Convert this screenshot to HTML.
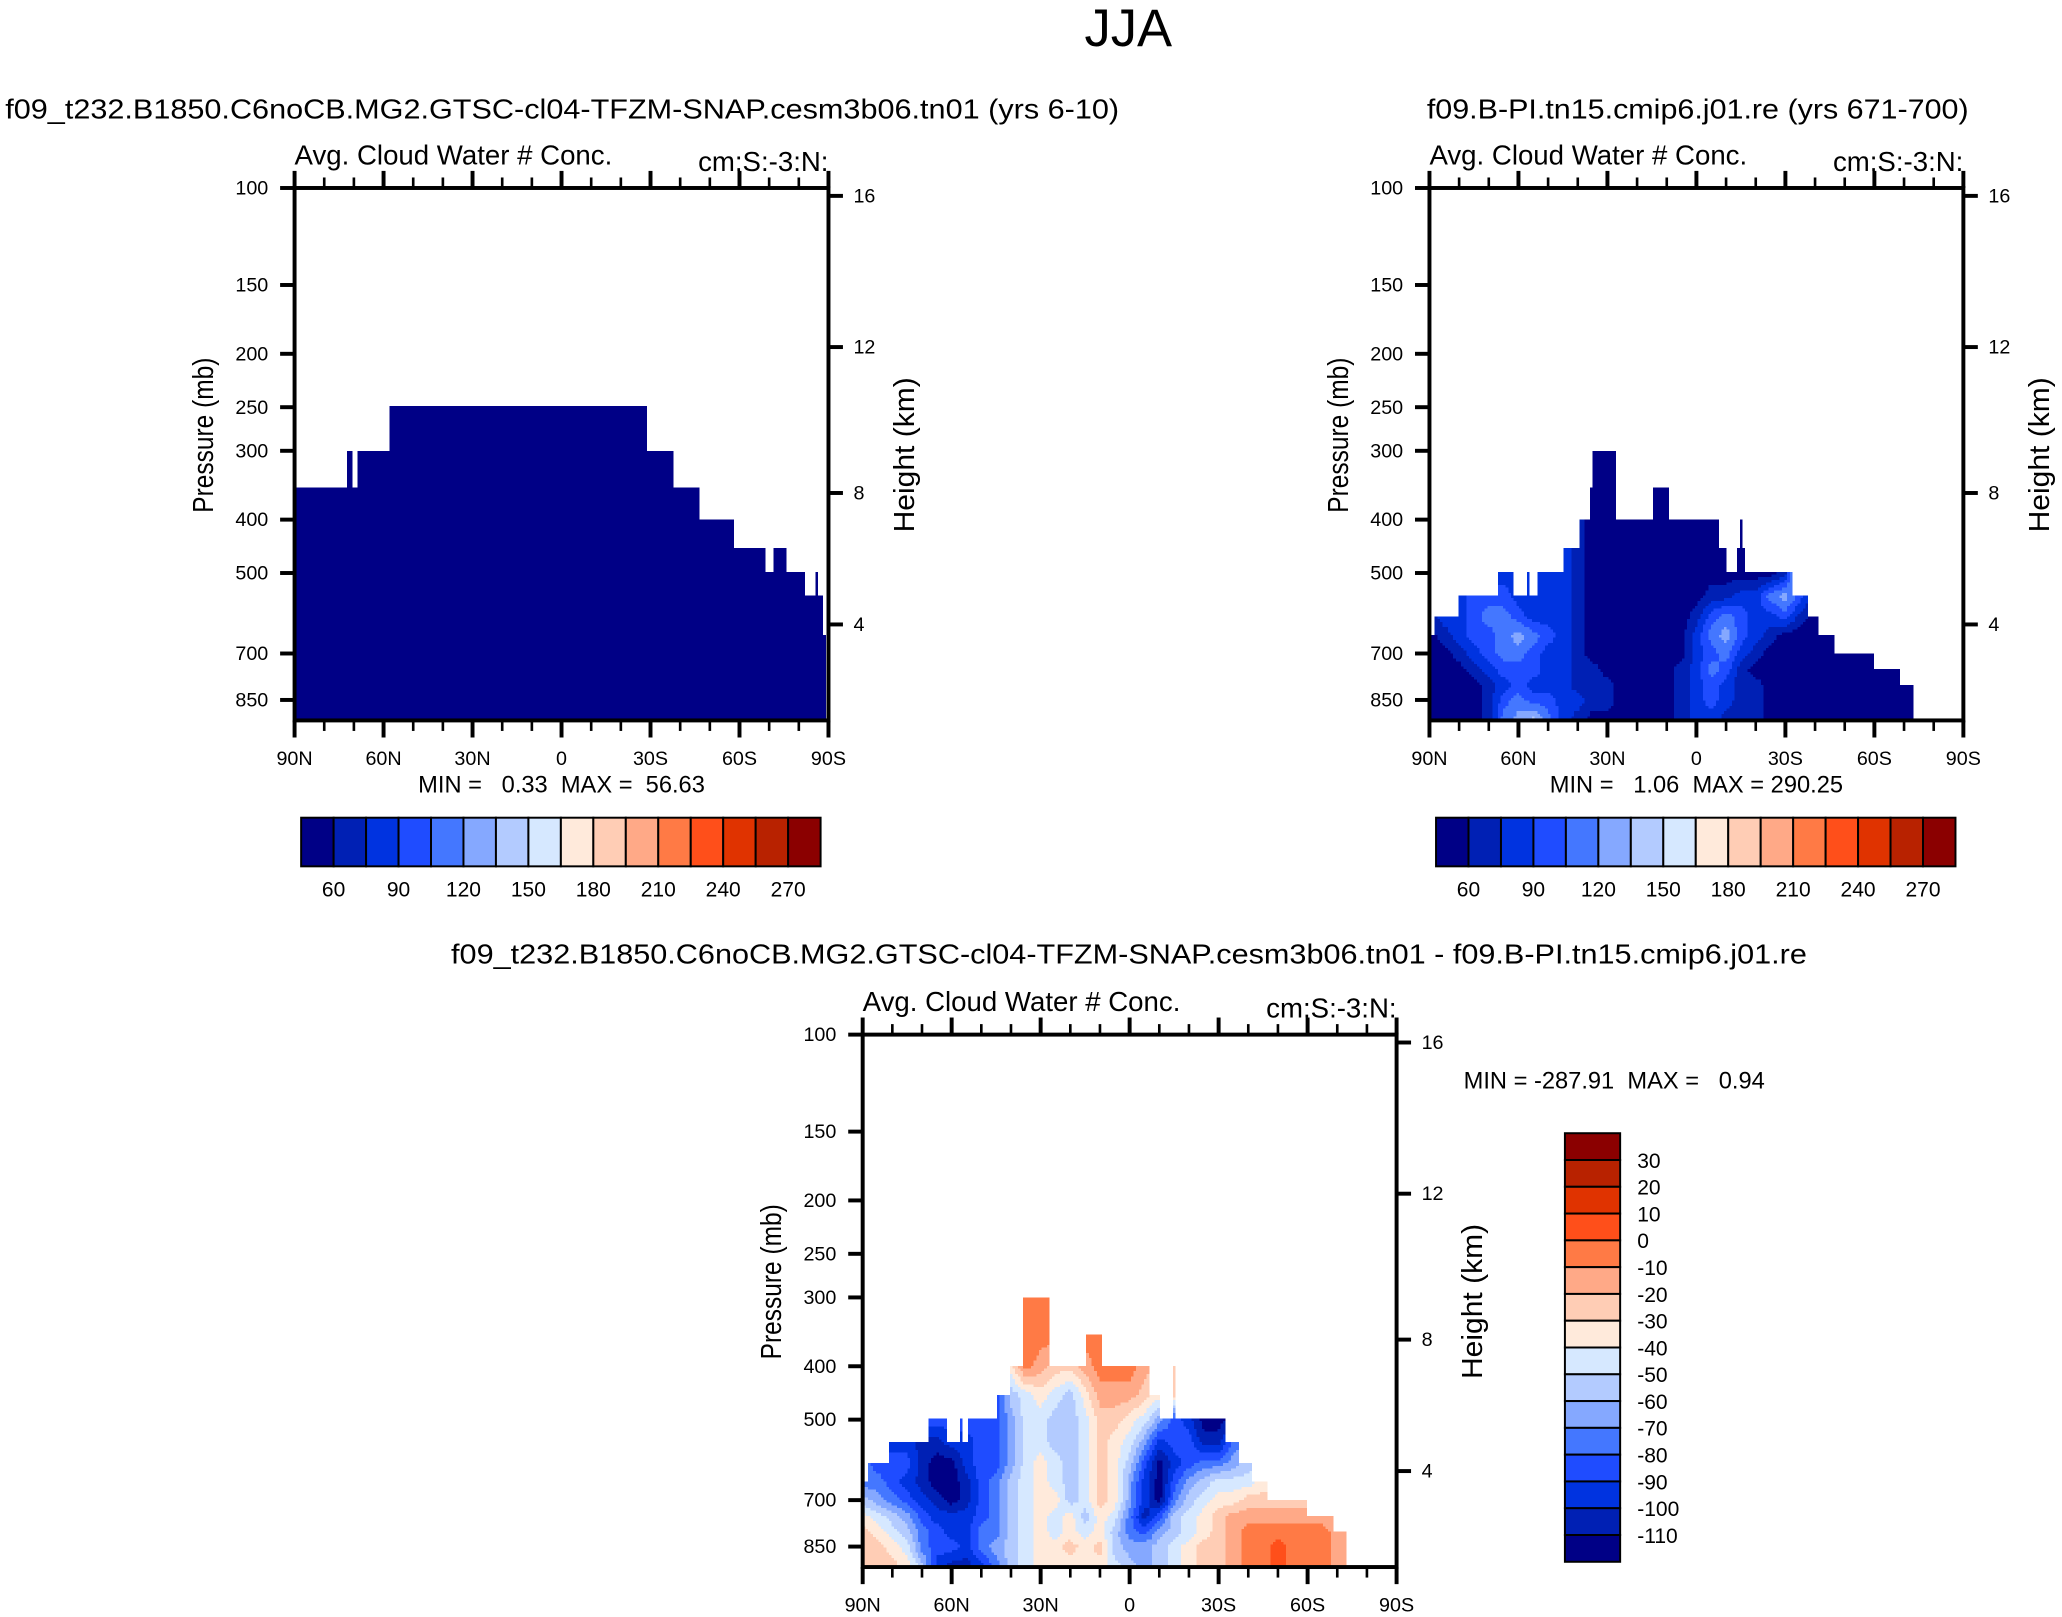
<!DOCTYPE html>
<html><head><meta charset="utf-8"><style>
html,body{margin:0;padding:0;background:#fff}
svg{display:block}
text{font-family:"Liberation Sans",Arial,sans-serif;fill:#000}
.pre{white-space:pre}
</style></head><body>
<svg id="fig" xmlns="http://www.w3.org/2000/svg" width="2062" height="1617" viewBox="0 0 1568 1230" preserveAspectRatio="none">
<rect x="0" y="0" width="1568" height="1230" fill="#fff"/>
<text x="858" y="35" font-size="40" text-anchor="middle">JJA</text>
<text x="4" y="90" font-size="21" textLength="847" lengthAdjust="spacingAndGlyphs">f09_t232.B1850.C6noCB.MG2.GTSC-cl04-TFZM-SNAP.cesm3b06.tn01 (yrs 6-10)</text>
<text x="1085" y="90" font-size="21" textLength="412" lengthAdjust="spacingAndGlyphs">f09.B-PI.tn15.cmip6.j01.re (yrs 671-700)</text>
<text x="343" y="733" font-size="21" textLength="1031" lengthAdjust="spacingAndGlyphs">f09_t232.B1850.C6noCB.MG2.GTSC-cl04-TFZM-SNAP.cesm3b06.tn01 - f09.B-PI.tn15.cmip6.j01.re</text>
<g id="layer"></g>
</svg>
<script>
// ---- data ----
const levelColors = ['#000086','#0020b4','#0033e0','#1f4cff','#4477ff','#85a8ff','#b3cbff','#d6e8ff','#ffeadb','#ffcdb5','#ffa987','#ff7a45','#ff4f1a','#e03300','#b82200','#8b0000'];
const absLabels = ['60','90','120','150','180','210','240','270'];
const diffLabels = ['30','20','10','0','-10','-20','-30','-40','-50','-60','-70','-80','-90','-100','-110'];
const pressTicks = [100,150,200,250,300,400,500,700,850];
const heightTicks = ['16','12','8','4'];
const latLabels = ['90N','60N','30N','0','30S','60S','90S'];
const pressNodes = [300,350,400,450,500,550,600,650,700,750,800,850,926];

const env1Start = [0,17.8,19.6,21.6,32,118.9,127.3,136.9,148.2,158.7,161.6,166.2,171.8,175.6,176.4,178.2,179.1];
const env1Top   = [350,300,350,300,250,300,350,400,450,500,450,500,550,500,550,650,null];
const p1Rows = ['0'];

const env2Start = [0,1.8,9.5,22.8,28.4,32.8,33.9,36.1,45.4,50.1,53.9,55,63.2,75.1,80.9,97.1,100,103.7,104.4,105.3,106.4,122.1,127.5,130.8,136.6,149.9,158.5,163.2];
const env2Top   = [650,600,550,500,550,500,550,500,450,400,350,300,400,350,400,450,500,450,400,450,500,550,600,650,700,750,800,null];
const p2Rows = [
 '0000000000000000000000000000000000000',
 '0000000000000000000000000000000000000',
 '0000000002100000000000000000000000000',
 '2222222222100000000000000000000000000',
 '1122222222100000000000001a63000000000',
 '1123332222100000000112245310000000000',
 '1223443222100000001343223100000000000',
 '0123345432100000002453210000000000000',
 '0012344322100000002342100000000000000',
 '0001233322110000012431000000000000000',
 '0000123222111000012321100000000000000',
 '0000134332211000012321100000000000000',
 '0000145642100000012211100000000000000'
];

const env3Start = [0,1.6,9.2,22.3,28.4,32.7,33.6,35.4,45,49.9,53.7,54.4,62.9,75.5,81,96.9,100,104.6,105.6,122.5,127.1,131,136.5,149.8,158.5,163.1];
const env3Top   = [650,600,550,500,550,500,550,500,450,400,350,300,400,350,400,450,500,400,500,550,600,650,700,750,800,null];
const p3Rows = [
 'bbbbbbbbbbbbbbbbbbbbbbbbbbbbbbbbbbbbb',
 '88888888889bbbabbba999999999999999999',
 '33333333368ba99abbba99999999999999999',
 '3333333333678768aaa989333333333333333',
 '3333333333577667998753200111111111111',
 '2222112233577667987523311444444444444',
 '4333100233578767986302344566666666666',
 '4432100134678767985203567778888888888',
 '6543210134678867985204678899999999999',
 '8765322234678786874136789aaaaaaaaaaaa',
 '9876432244678787864356789abbbbbbaaaaa',
 '9987433245678898965567899abbcbbbaaaaa',
 '9998621124678888876567899abbcbbbaaaaa'
];

// ---- drawing ----
const NS='http://www.w3.org/2000/svg';
const layer=document.getElementById('layer');
function mk(tag,attrs,parent){const e=document.createElementNS(NS,tag);for(const k in attrs)e.setAttribute(k,attrs[k]);(parent||layer).appendChild(e);return e;}
const BW=406,BH=405,K=419;
function yOfP(p,y0){return y0+K*(Math.log10(p)-2);}
function pOfY(y,y0){return Math.pow(10,2+(y-y0)/K);}
function envTop(starts,tops,deg){let t=null;for(let i=0;i<starts.length;i++){if(starts[i]<=deg)t=tops[i];}return t;}
function hv(ch){return parseInt(ch,16);}
function valAt(rows,deg,p){
  const nr=rows.length;
  let r0=0,fr=0;
  if(nr>1){
    if(p<=pressNodes[0]){r0=0;fr=0;}
    else if(p>=pressNodes[nr-1]){r0=nr-2;fr=1;}
    else{for(let i=0;i<nr-1;i++){if(p>=pressNodes[i]&&p<=pressNodes[i+1]){r0=i;fr=(p-pressNodes[i])/(pressNodes[i+1]-pressNodes[i]);break;}}}
  }
  const r1=Math.min(r0+1,nr-1);
  function rowVal(s){const ncol=s.length;if(ncol===1)return hv(s[0]);let c=deg/5;if(c<0)c=0;if(c>ncol-1)c=ncol-1;const c0=Math.floor(c),c1=Math.min(c0+1,ncol-1),f=c-c0;return hv(s[c0])*(1-f)+hv(s[c1])*f;}
  return rowVal(rows[r0])*(1-fr)+rowVal(rows[r1])*fr;
}
function drawField(g,x0,y0,rows,starts,tops){
  const st=2;
  for(let y=y0;y<y0+BH;y+=st){
    const p=pOfY(y+st/2,y0);
    let runStart=null,runLvl=-1;
    for(let x=x0;x<=x0+BW;x+=st){
      let lvl=-1;
      if(x<x0+BW){
        const deg=(x+st/2-x0)/BW*180;
        const top=envTop(starts,tops,deg);
        if(top!==null&&p>=top){lvl=Math.max(0,Math.min(15,Math.round(valAt(rows,deg,p))));}
      }
      if(lvl!==runLvl){
        if(runLvl>=0){
          const r=mk('rect',{x:runStart,y:y,width:Math.min(x,x0+BW)-runStart,height:Math.min(st+0.6,y0+BH-y),fill:levelColors[runLvl]},g);
          
          
        }
        runStart=x;runLvl=lvl;
      }
    }
  }
}
function drawPanel(id,x0,y0,rows,starts,tops,hTickYs){
  const g=mk('g',{'shape-rendering':'crispEdges'});
  
  
  drawField(g,x0,y0,rows,starts,tops);
  const ax=mk('g',{stroke:'#000','stroke-width':3,fill:'none'});
  
  
  mk('rect',{x:x0,y:y0,width:BW,height:BH},ax);
  for(let d=0;d<=180;d+=10){
    const x=x0+d/180*BW, len=(d%30===0)?13:8, w=(d%30===0)?3:2;
    mk('line',{x1:x,y1:y0+BH,x2:x,y2:y0+BH+len,'stroke-width':w},ax);
    mk('line',{x1:x,y1:y0,x2:x,y2:y0-len,'stroke-width':w},ax);
  }
  latLabels.forEach((t,i)=>{const tx=mk('text',{x:x0+i*BW/6,y:y0+BH+34,'font-size':15,'text-anchor':'middle'});tx.textContent=t;
    });
  pressTicks.forEach(p=>{const y=yOfP(p,y0);mk('line',{x1:x0-11,y1:y,x2:x0,y2:y},ax);
    const tx=mk('text',{x:x0-20,y:y+5,'font-size':15,'text-anchor':'end'});tx.textContent=p;
    });
  heightTicks.forEach((h,i)=>{const y=y0+hTickYs[i];mk('line',{x1:x0+BW,y1:y,x2:x0+BW+11,y2:y},ax);
    const tx=mk('text',{x:x0+BW+19,y:y+5,'font-size':15});tx.textContent=h;
    });
  const t1=mk('text',{x:x0,y:y0-18,'font-size':21});t1.textContent='Avg. Cloud Water # Conc.';
  
  const t2=mk('text',{x:x0+BW,y:y0-13,'font-size':21,'text-anchor':'end'});t2.textContent='cm:S:-3:N:';
  
  const yl=mk('text',{x:0,y:0,'font-size':22,'text-anchor':'middle',textLength:118,lengthAdjust:'spacingAndGlyphs',transform:`translate(${x0-62},${y0+188}) rotate(-90)`});yl.textContent='Pressure (mb)';
  
  const yr=mk('text',{x:0,y:0,'font-size':22,'text-anchor':'middle',textLength:118,lengthAdjust:'spacingAndGlyphs',transform:`translate(${x0+BW+65},${y0+203}) rotate(-90)`});yr.textContent='Height (km)';
  
}
const hYs=[6,121,232,332];
drawPanel('panel1',224,143,p1Rows,env1Start,env1Top,hYs);
drawPanel('panel2',1087,143,p2Rows,env2Start,env2Top,hYs);
drawPanel('panel3',656,787,p3Rows,env3Start,env3Top,hYs);

function hBar(id,x0,y0,minmax,cx){
  const w=395,h=37,bw=w/16;
  const g=mk('g',{});
  
  
  levelColors.forEach((c,i)=>{const r=mk('rect',{x:x0+i*bw,y:y0,width:bw,height:h,fill:c,stroke:'#000','stroke-width':1.5},g);
    });
  absLabels.forEach((t,i)=>{const tx=mk('text',{x:x0+(1+2*i)*bw,y:y0+60,'font-size':16,'text-anchor':'middle'},g);tx.textContent=t;
    });
  const m=mk('text',{x:cx,y:y0-19,'font-size':18,'text-anchor':'middle','class':'pre','xml:space':'preserve'});m.textContent=minmax;
  
}
hBar('panel1',229,622,'MIN =   0.33  MAX =  56.63',427);
hBar('panel2',1092,622,'MIN =   1.06  MAX = 290.25',1290);

(function(){
  const x0=1190,y0=862,w=42,H=326,bh=H/16;
  const g=mk('g',{});
  
  
  for(let i=0;i<16;i++){const r=mk('rect',{x:x0,y:y0+i*bh,width:w,height:bh,fill:levelColors[15-i],stroke:'#000','stroke-width':1.5},g);
    }
  diffLabels.forEach((t,i)=>{const tx=mk('text',{x:x0+55,y:y0+(i+1)*bh+6,'font-size':16},g);tx.textContent=t;
    });
  const m=mk('text',{x:1113,y:828,'font-size':18,'class':'pre','xml:space':'preserve'});m.textContent='MIN = -287.91  MAX =   0.94';
  
})();
</script>
</body></html>
